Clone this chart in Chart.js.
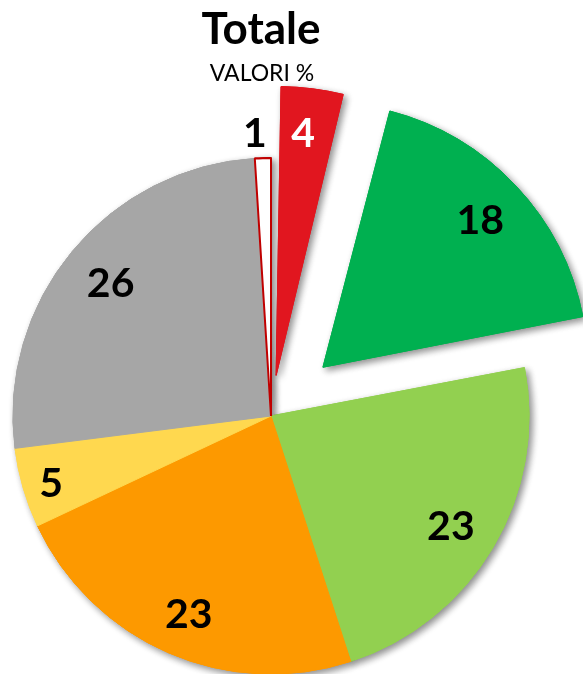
<!DOCTYPE html>
<html>
<head>
<meta charset="utf-8">
<script src="https://cdn.jsdelivr.net/npm/chart.js@4.4.1/dist/chart.umd.min.js"></script>
<style>
  html, body { margin: 0; padding: 0; background: #ffffff; }
  #wrap { position: relative; width: 583px; height: 674px; }
</style>
</head>
<body>
<div id="wrap"><canvas id="c" width="583" height="674"></canvas></div>
<script>
// ---- data ----
const categories = ['Rosso', 'Verde scuro', 'Verde chiaro', 'Arancione', 'Giallo', 'Grigio', 'Bianco'];
const values = [4, 18, 23, 23, 5, 26, 1];
const titleText = 'Totale';
const subtitleText = 'VALORI %';

// ---- styles ----
const fillColors = ['#E1161F', '#00B050', '#92D050', '#FD9900', '#FFD84F', '#A6A6A6', '#FFFFFF'];
const lineColors = ['#E1161F', '#00B050', '#92D050', '#FD9900', '#FFD84F', '#A6A6A6', '#C00000'];
const lineWidths = [1, 1, 1, 1, 1, 1, 2];
const explode = [164, 285, 0, 0, 0, 0, 0];
const labelColors = ['#FFFFFF', '#000000', '#000000', '#000000', '#000000', '#000000', '#000000'];
const labelRadius = [0.83, 0.81, 0.815, 0.83, 0.89, 0.81, 1.10];
const labelAngle = [0.43, 0.50, 0.507, 0.49, 0.47, 0.503, 0.10];
const labelFontSize = 41;

function arcShift(el) {
  const off = (el.options.offset || 0) / 4;
  const circ = el.endAngle - el.startAngle;
  const fix = 1 - Math.sin(Math.min(Math.PI, circ || 0));
  return off + off * fix;
}

const shadowPlugin = {
  id: 'pieShadow',
  beforeDatasetsDraw(chart) {
    const ctx = chart.ctx;
    const meta = chart.getDatasetMeta(0);
    ctx.save();
    ctx.shadowColor = 'rgba(0,0,0,0.45)';
    ctx.shadowBlur = 7;
    ctx.shadowOffsetX = 3;
    ctx.shadowOffsetY = 3;
    meta.data.forEach(el => el.draw(ctx));
    ctx.restore();
  }
};

const labelPlugin = {
  id: 'sliceLabels',
  afterDatasetsDraw(chart) {
    const ctx = chart.ctx;
    const meta = chart.getDatasetMeta(0);
    ctx.save();
    ctx.font = 'bold ' + labelFontSize + 'px Lato, "Open Sans", sans-serif';
    ctx.textAlign = 'center';
    ctx.textBaseline = 'alphabetic';
    meta.data.forEach((el, i) => {
      const mid = (el.startAngle + el.endAngle) / 2;
      const ang = el.startAngle + (el.endAngle - el.startAngle) * labelAngle[i];
      const s = arcShift(el);
      const r = el.outerRadius * labelRadius[i];
      const x = el.x + Math.cos(mid) * s + Math.cos(ang) * r;
      const y = el.y + Math.sin(mid) * s + Math.sin(ang) * r;
      ctx.fillStyle = labelColors[i];
      ctx.fillText(String(values[i]), x, y + labelFontSize * 0.36);
    });
    ctx.restore();
  }
};

const titlePlugin = {
  id: 'titles',
  afterDraw(chart) {
    const ctx = chart.ctx;
    ctx.save();
    ctx.textAlign = 'center';
    ctx.textBaseline = 'alphabetic';
    ctx.fillStyle = '#000000';
    ctx.font = 'bold 44px Lato, "Open Sans", sans-serif';
    ctx.fillText(titleText, 261, 44);
    ctx.font = '23px Lato, "Open Sans", sans-serif';
    ctx.fillText(subtitleText, 262, 81);
    ctx.restore();
  }
};

new Chart(document.getElementById('c'), {
  type: 'pie',
  data: {
    labels: categories,
    datasets: [{
      data: values,
      backgroundColor: fillColors,
      borderColor: lineColors,
      borderWidth: lineWidths,
      offset: explode,
      hoverOffset: 0
    }]
  },
  options: {
    responsive: false,
    animation: false,
    events: [],
    radius: 258,
    layout: { padding: { left: 0, right: 41, top: 158, bottom: 0 } },
    plugins: {
      legend: { display: false },
      tooltip: { enabled: false },
      title: { display: false }
    }
  },
  plugins: [shadowPlugin, labelPlugin, titlePlugin]
});
</script>
</body>
</html>
